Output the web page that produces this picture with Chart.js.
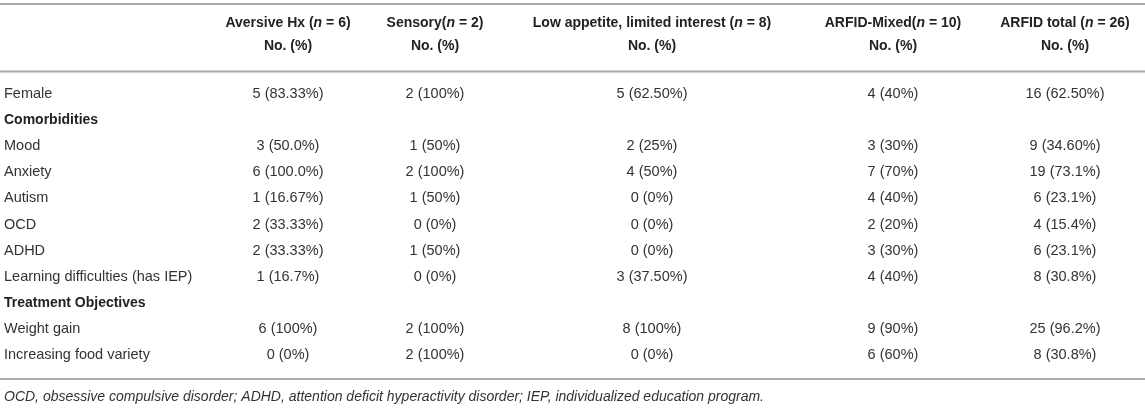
<!DOCTYPE html>
<html>
<head>
<meta charset="utf-8">
<title>ARFID subgroup characteristics</title>
<script src="https://cdn.jsdelivr.net/npm/chart.js@4.4.0/dist/chart.umd.min.js"></script>
<style>
  html, body { margin: 0; padding: 0; background: #fff; }
  canvas { display: block; }
</style>
</head>
<body>
<canvas id="tableChart" width="1145" height="408"></canvas>
<script>
// rows of the table, top to bottom (section headings included)
const rowLabels = [
    'Female', 'Comorbidities', 'Mood', 'Anxiety', 'Autism', 'OCD', 'ADHD',
    'Learning difficulties (has IEP)', 'Treatment Objectives', 'Weight gain', 'Increasing food variety'
];
const sectionRows = ['Comorbidities', 'Treatment Objectives'];

// column groups: name, separator before "(n", group size
const groupNames = ['Aversive Hx ', 'Sensory', 'Low appetite, limited interest ', 'ARFID-Mixed', 'ARFID total '];
const groupSizes = [6, 2, 8, 10, 26];
const subHeader = 'No. (%)';

// counts and percentages per column (null = section heading row)
const aversiveCounts = [5, null, 3, 6, 1, 2, 2, 1, null, 6, 0];
const aversivePct    = ['83.33', null, '50.0', '100.0', '16.67', '33.33', '33.33', '16.7', null, '100', '0'];
const sensoryCounts  = [2, null, 1, 2, 1, 0, 1, 0, null, 2, 2];
const sensoryPct     = ['100', null, '50', '100', '50', '0', '50', '0', null, '100', '100'];
const lowAppCounts   = [5, null, 2, 4, 0, 0, 0, 3, null, 8, 0];
const lowAppPct      = ['62.50', null, '25', '50', '0', '0', '0', '37.50', null, '100', '0'];
const mixedCounts    = [4, null, 3, 7, 4, 2, 3, 4, null, 9, 6];
const mixedPct       = ['40', null, '30', '70', '40', '20', '30', '40', null, '90', '60'];
const totalCounts    = [16, null, 9, 19, 6, 4, 6, 8, null, 25, 8];
const totalPct       = ['62.50', null, '34.60', '73.1', '23.1', '15.4', '23.1', '30.8', null, '96.2', '30.8'];

const footnote = 'OCD, obsessive compulsive disorder; ADHD, attention deficit hyperactivity disorder; IEP, individualized education program.';

// layout only
const colCenters = [288, 435, 652, 893, 1065];
const fontFamily = '"Liberation Sans", Arial, Helvetica, sans-serif';
const bodySize = '14.5px ';
const textColor = '#333';
const ruleColor = '#aaa';

const columns = [
    [aversiveCounts, aversivePct],
    [sensoryCounts, sensoryPct],
    [lowAppCounts, lowAppPct],
    [mixedCounts, mixedPct],
    [totalCounts, totalPct]
];

const datasets = columns.map(([counts, pct], c) => ({
    label: groupNames[c].trim(),
    data: rowLabels
        .map((row, i) => counts[i] === null ? null : {
            x: colCenters[c],
            y: row,
            text: counts[i] + ' (' + pct[i] + '%)'
        })
        .filter(p => p !== null),
    pointRadius: 0
}));

function drawRule(ctx, y, width) {
    ctx.save();
    ctx.strokeStyle = ruleColor;
    ctx.lineWidth = 2;
    ctx.beginPath();
    ctx.moveTo(0, y);
    ctx.lineTo(width, y);
    ctx.stroke();
    ctx.restore();
}

// draws a run of [text, italic] pieces centred on x
function drawPieces(ctx, pieces, x, y, weight) {
    let total = 0;
    const widths = pieces.map(([t, it]) => {
        ctx.font = (it ? 'italic ' : '') + weight + ' 14px ' + fontFamily;
        const w = ctx.measureText(t).width;
        total += w;
        return w;
    });
    let cx = x - total / 2;
    pieces.forEach(([t, it], k) => {
        ctx.font = (it ? 'italic ' : '') + weight + ' 14px ' + fontFamily;
        ctx.fillText(t, cx, y);
        cx += widths[k];
    });
}

const tablePlugin = {
    id: 'tableText',
    afterDatasetsDraw(chart) {
        const ctx = chart.ctx;
        const yScale = chart.scales.y;
        const W = chart.width;

        ctx.save();
        ctx.textBaseline = 'middle';
        ctx.fillStyle = '#222';

        // header rows
        ctx.textAlign = 'left';
        groupNames.forEach((name, c) => {
            const pieces = [[name + '(', false], ['n', true], [' = ' + groupSizes[c] + ')', false]];
            drawPieces(ctx, pieces, colCenters[c], 23, 'bold');
            drawPieces(ctx, [[subHeader, false]], colCenters[c], 46, 'bold');
        });

        // row labels
        rowLabels.forEach((row, i) => {
            const y = yScale.getPixelForValue(i);
            const isSection = sectionRows.includes(row);
            ctx.font = isSection ? 'bold 14px ' + fontFamily : bodySize + fontFamily;
            ctx.fillStyle = isSection ? '#222' : textColor;
            ctx.fillText(row, 4, y);
        });

        // cell values, placed by the scales
        ctx.textAlign = 'center';
        ctx.font = bodySize + fontFamily;
        ctx.fillStyle = textColor;
        chart.data.datasets.forEach((ds, d) => {
            const meta = chart.getDatasetMeta(d);
            meta.data.forEach((el, i) => {
                ctx.fillText(ds.data[i].text, el.x, el.y);
            });
        });

        // footnote
        ctx.textAlign = 'left';
        ctx.font = 'italic 14px ' + fontFamily;
        ctx.fillText(footnote, 4, 397);
        ctx.restore();

        drawRule(ctx, 4, W);
        drawRule(ctx, 71.5, W);
        drawRule(ctx, 379, W);
    }
};

new Chart(document.getElementById('tableChart'), {
    type: 'scatter',
    data: { datasets: datasets },
    options: {
        responsive: false,
        animation: false,
        layout: { padding: { top: 81, bottom: 40, left: 0, right: 0 } },
        scales: {
            x: { type: 'linear', min: 0, max: 1145, display: false },
            y: { type: 'category', labels: rowLabels, offset: true, display: false }
        },
        plugins: {
            legend: { display: false },
            tooltip: { enabled: false }
        }
    },
    plugins: [tablePlugin]
});
</script>
</body>
</html>
